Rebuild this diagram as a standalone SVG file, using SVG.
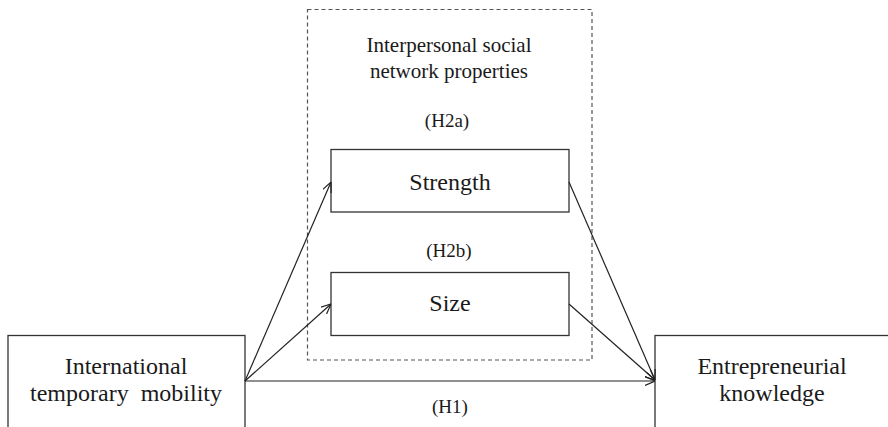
<svg xmlns="http://www.w3.org/2000/svg" width="888" height="427" viewBox="0 0 888 427">
<defs>
<marker id="arr" viewBox="0 0 10 10" refX="10" refY="5" markerWidth="10" markerHeight="10" markerUnits="userSpaceOnUse" orient="auto">
<path d="M0,0.5 L10,5 L0,9.5" fill="none" stroke="#222" stroke-width="1.2"/>
</marker>
<style>
.box{fill:#fff;stroke:#333;stroke-width:1.3}
.dash{fill:none;stroke:#555;stroke-width:1.2;stroke-dasharray:4,3}
.t{font-family:"Liberation Serif","Times New Roman",serif;fill:#1a1a1a;text-anchor:middle}
.lab{font-size:24px}
.head{font-size:21px}
.h{font-size:19px}
.c{stroke:#222;stroke-width:1.2;fill:none;marker-end:url(#arr)}
</style>
</defs>
<rect width="888" height="427" fill="#fff"/>
<g id="group-network">
<rect class="dash" x="307.5" y="9.5" width="284.5" height="350.5"/>
<text class="t head" x="449" y="52">Interpersonal social</text>
<text class="t head" x="449" y="78">network properties</text>
</g>
<g id="node-strength">
<rect class="box" x="331" y="149.5" width="238" height="62.5"/>
<text class="t lab" x="450" y="190">Strength</text>
</g>
<g id="node-size">
<rect class="box" x="331" y="272.5" width="238" height="63"/>
<text class="t lab" x="450" y="311">Size</text>
</g>
<g id="node-mobility">
<rect class="box" x="8" y="335.5" width="237" height="100"/>
<text class="t lab" x="126" y="374">International</text>
<text class="t lab" x="126" y="401" xml:space="preserve">temporary  mobility</text>
</g>
<g id="node-knowledge">
<rect class="box" x="655" y="335.5" width="240" height="100"/>
<text class="t lab" x="772" y="374">Entrepreneurial</text>
<text class="t lab" x="772" y="401">knowledge</text>
</g>
<g id="connectors">
<line class="c" x1="245" y1="381" x2="331" y2="182"/>
<line class="c" x1="245" y1="381" x2="331" y2="304"/>
<line class="c" x1="245" y1="381" x2="655" y2="381"/>
<line class="c" x1="569" y1="182" x2="655" y2="380"/>
<line class="c" x1="569" y1="304" x2="655" y2="380"/>
<text class="t h" x="447" y="127">(H2a)</text>
<text class="t h" x="449" y="257">(H2b)</text>
<text class="t h" x="450" y="413">(H1)</text>
</g>
</svg>
